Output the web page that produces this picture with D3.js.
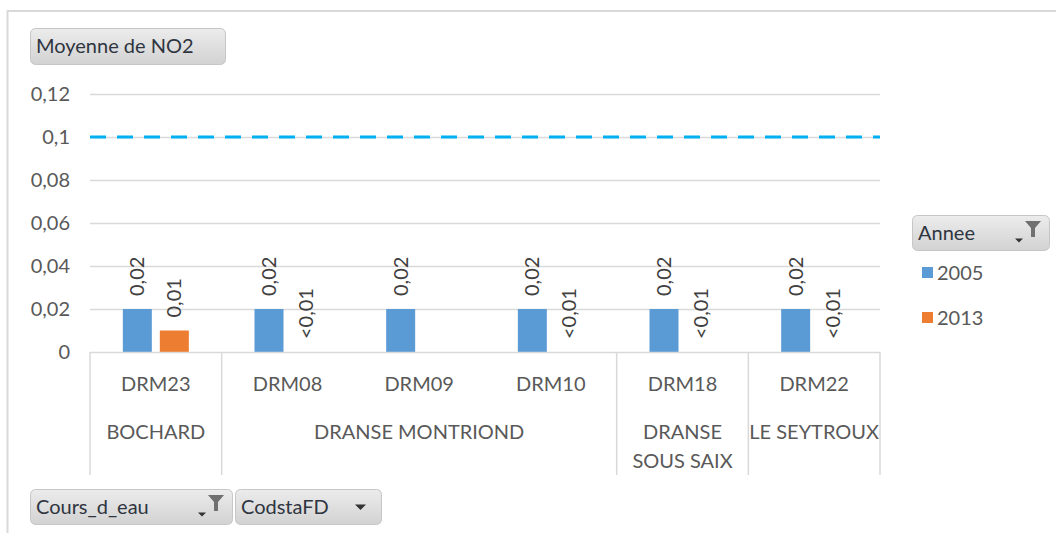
<!DOCTYPE html>
<html>
<head>
<meta charset="utf-8">
<script src="https://cdn.jsdelivr.net/npm/d3@7"></script>
<style>
    body { margin: 0; background: #fff; }
    text { font-family: Lato, "Open Sans", sans-serif; }
</style>
</head>
<body>
<div id="chart"></div>
<script>
// data
var stations = ["DRM23", "DRM08", "DRM09", "DRM10", "DRM18", "DRM22"];
var rivers = [
    {name: ["BOCHARD"], from: 0, to: 0},
    {name: ["DRANSE MONTRIOND"], from: 1, to: 3},
    {name: ["DRANSE", "SOUS SAIX"], from: 4, to: 4},
    {name: ["LE SEYTROUX"], from: 5, to: 5}
];
var years = ["2005", "2013"];
var values2005 = [0.02, 0.02, 0.02, 0.02, 0.02, 0.02];
var values2013 = [0.01, 0, null, 0, 0, 0];
var yTicks = [0, 0.02, 0.04, 0.06, 0.08, 0.1, 0.12];
var threshold = 0.1;
var colors = ["#5b9bd5", "#ed7d31"];

var W = 1056, H = 533;
var svg = d3.select("#chart").append("svg")
    .attr("width", W)
    .attr("height", H);

var defs = svg.append("defs");
var grad = defs.append("linearGradient")
    .attr("id", "btn")
    .attr("x1", 0).attr("y1", 0).attr("x2", 0).attr("y2", 1);
grad.append("stop").attr("offset", "0%").attr("stop-color", "#ececec");
grad.append("stop").attr("offset", "100%").attr("stop-color", "#d2d2d2");

// outer frame
svg.append("path")
    .attr("d", "M7.5," + H + " V11 H" + W)
    .attr("fill", "none")
    .attr("stroke", "#d9d9d9")
    .attr("stroke-width", 2);

var x0 = d3.scaleBand()
    .domain(d3.range(stations.length))
    .range([90, 880]);
var y = d3.scaleLinear()
    .domain([0, 0.12])
    .range([352, 94]);

// grid
svg.append("g").selectAll("line")
    .data(yTicks.filter(function (d) { return d > 0; }))
    .enter()
    .append("line")
    .attr("x1", 90)
    .attr("x2", 880)
    .attr("y1", function (d) { return Math.round(y(d)) + 0.5; })
    .attr("y2", function (d) { return Math.round(y(d)) + 0.5; })
    .attr("stroke", "#d9d9d9")
    .attr("stroke-width", 1.5);

// y axis labels
svg.append("g").selectAll("text")
    .data(yTicks)
    .enter()
    .append("text")
    .attr("x", 70)
    .attr("y", function (d) { return y(d) + 7; })
    .attr("text-anchor", "end")
    .attr("font-size", 20)
    .attr("fill", "#595959")
    .text(function (d) { return d3.format(".2~f")(d).replace(".", ","); });

// bars
var barW = 29, off = 18.5;
var series = [values2005, values2013];
series.forEach(function (vals, s) {
    var g = svg.append("g");
    var pts = vals.map(function (v, i) { return {v: v, i: i}; })
        .filter(function (d) { return d.v !== null; });
    g.selectAll("rect")
        .data(pts)
        .enter()
        .append("rect")
        .attr("x", function (d) {
            return x0(d.i) + x0.bandwidth() / 2 + (s === 0 ? -off : off) - barW / 2;
        })
        .attr("y", function (d) { return y(d.v); })
        .attr("width", barW)
        .attr("height", function (d) { return y(0) - y(d.v); })
        .attr("fill", colors[s]);
    g.selectAll("text")
        .data(pts)
        .enter()
        .append("text")
        .attr("transform", function (d) {
            var cx = x0(d.i) + x0.bandwidth() / 2 + (s === 0 ? -off : off);
            return "translate(" + (cx + 7) + "," + (y(d.v) - 13) + ") rotate(-90)";
        })
        .attr("font-size", 20)
        .attr("fill", "#404040")
        .text(function (d) {
            return d.v < 0.01 ? "<0,01" : d3.format(".2f")(d.v).replace(".", ",");
        });
});

// threshold line
svg.append("line")
    .attr("x1", 90)
    .attr("x2", 880)
    .attr("y1", y(threshold))
    .attr("y2", y(threshold))
    .attr("stroke", "#00b0f0")
    .attr("stroke-width", 3)
    .attr("stroke-dasharray", "16,11");

// baseline and category axis
var axis = svg.append("g")
    .attr("stroke", "#d9d9d9")
    .attr("stroke-width", 1.5);
axis.append("line")
    .attr("x1", 90).attr("x2", 880)
    .attr("y1", 352.5).attr("y2", 352.5);
var seps = [0].concat(rivers.map(function (r) { return r.to + 1; }));
axis.selectAll(".sep")
    .data(seps)
    .enter()
    .append("line")
    .attr("class", "sep")
    .attr("x1", function (d) { return d < stations.length ? x0(d) : 880; })
    .attr("x2", function (d) { return d < stations.length ? x0(d) : 880; })
    .attr("y1", 352)
    .attr("y2", 475);

svg.append("g").selectAll("text")
    .data(stations)
    .enter()
    .append("text")
    .attr("x", function (d, i) { return x0(i) + x0.bandwidth() / 2; })
    .attr("y", 391)
    .attr("text-anchor", "middle")
    .attr("font-size", 20)
    .attr("fill", "#595959")
    .text(function (d) { return d; });

var rg = svg.append("g").selectAll("text")
    .data(rivers)
    .enter()
    .append("text")
    .attr("x", function (d) {
        return (x0(d.from) + x0(d.to) + x0.bandwidth()) / 2;
    })
    .attr("y", 439)
    .attr("text-anchor", "middle")
    .attr("font-size", 20)
    .attr("fill", "#595959");
rg.selectAll("tspan")
    .data(function (d) {
        var cx = (x0(d.from) + x0(d.to) + x0.bandwidth()) / 2;
        return d.name.map(function (n) { return {n: n, cx: cx}; });
    })
    .enter()
    .append("tspan")
    .attr("x", function (d) { return d.cx; })
    .attr("dy", function (d, i) { return i === 0 ? 0 : 29; })
    .text(function (d) { return d.n; });

// field buttons
function button(x, yy, w, h, label, filter, arrow) {
    var b = svg.append("g").attr("transform", "translate(" + x + "," + yy + ")");
    b.append("rect")
        .attr("x", 0.5).attr("y", 0.5)
        .attr("width", w).attr("height", h)
        .attr("rx", 5)
        .attr("fill", "url(#btn)")
        .attr("stroke", "#c6c6c6");
    b.append("text")
        .attr("x", 6)
        .attr("y", h / 2 + 7)
        .attr("font-size", 20)
        .attr("fill", "#2f3540")
        .text(label);
    if (filter) {
        b.append("path")
            .attr("d", "M" + (w - 24) + ",6 h16 l-6,7 v9 h-4 v-9 z")
            .attr("fill", "#707070");
        b.append("path")
            .attr("d", "M" + (w - 34) + "," + (h / 2 + 6) + " h8 l-4,4 z")
            .attr("fill", "#333");
    }
    if (arrow) {
        b.append("path")
            .attr("d", "M" + (w - 26) + "," + (h / 2 - 2) + " h11 l-5.5,5.5 z")
            .attr("fill", "#333");
    }
}
button(30, 28, 195, 36, "Moyenne de NO2", false, false);
button(912, 215, 137, 35, "Annee", true, false);
button(30, 489, 202, 35, "Cours_d_eau", true, false);
button(235, 489, 146, 35, "CodstaFD", false, true);

// legend
var leg = svg.append("g").selectAll("g")
    .data(years)
    .enter()
    .append("g")
    .attr("transform", function (d, i) { return "translate(922," + (267 + i * 45) + ")"; });
leg.append("rect")
    .attr("width", 11)
    .attr("height", 11)
    .attr("fill", function (d, i) { return colors[i]; });
leg.append("text")
    .attr("x", 15)
    .attr("y", 13)
    .attr("font-size", 20)
    .attr("fill", "#595959")
    .text(function (d) { return d; });
</script>
</body>
</html>
